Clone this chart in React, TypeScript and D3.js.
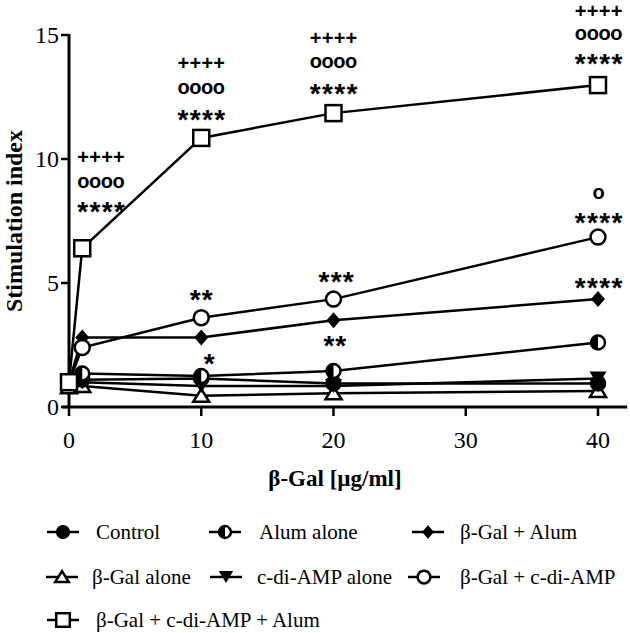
import React from "react";
import * as d3 from "d3";

const doses = [0, 1, 10, 20, 40];
const controlVals = [1.0, 1.1, 1.15, 0.95, 0.95];
const alumAloneVals = [1.0, 1.35, 1.25, 1.45, 2.6];
const galAlumVals = [1.0, 2.8, 2.8, 3.5, 4.35];
const galAloneVals = [0.8, 0.85, 0.45, 0.55, 0.65];
const cdaAloneVals = [1.0, 1.0, 0.85, 0.85, 1.15];
const galCdaVals = [1.0, 2.4, 3.6, 4.35, 6.85];
const galCdaAlumVals = [1.0, 6.4, 10.85, 11.85, 12.98];

const seriesNames = [
  "Control",
  "Alum alone",
  "β-Gal + Alum",
  "β-Gal alone",
  "c-di-AMP alone",
  "β-Gal + c-di-AMP",
  "β-Gal + c-di-AMP + Alum",
];
const seriesValues = [controlVals, alumAloneVals, galAlumVals, galAloneVals, cdaAloneVals, galCdaVals, galCdaAlumVals];
const seriesSymbols = ["circleFilled", "halfCircle", "diamond", "triangleUp", "triangleDown", "circleOpen", "square"];
const drawOrder = [3, 0, 4, 1, 2, 5, 6];

const xTicks = [0, 10, 20, 30, 40];
const yTicks = [0, 5, 10, 15];

// significance annotations: [x, y (centre), text]
const annoX = [2.42, 2.42, 2.42, 10, 10, 10, 20, 20, 20, 40.05, 40.05, 40.05, 40.05, 40.05, 40.05, 10, 10.6, 20.2, 20.1];
const annoY = [10.08, 9.03, 8.15, 13.87, 12.82, 11.85, 14.88, 13.87, 12.9, 15.95, 15.0, 14.11, 8.59, 7.7, 5.08, 4.6, 2.0, 5.32, 2.74];
const annoText = ["++++", "oooo", "****", "++++", "oooo", "****", "++++", "oooo", "****", "++++", "oooo", "****", "o", "****", "****", "**", "*", "***", "**"];

const W = 630;
const H = 633;

function Marker({ type, cx, cy, s = 1 }: { type: string; cx: number; cy: number; s?: number }) {
  const sw = 2.5;
  switch (type) {
    case "circleFilled":
      return <circle cx={cx} cy={cy} r={7.5 * s} fill="#000" stroke="#000" strokeWidth={1.5} />;
    case "halfCircle":
      return (
        <g>
          <circle cx={cx} cy={cy} r={7 * s} fill="#fff" stroke="#000" strokeWidth={sw} />
          <path d={`M${cx},${cy - 7 * s} A${7 * s},${7 * s} 0 0 0 ${cx},${cy + 7 * s} Z`} fill="#000" />
        </g>
      );
    case "diamond":
      return (
        <path
          d={`M${cx},${cy - 8 * s} L${cx + 7 * s},${cy} L${cx},${cy + 8 * s} L${cx - 7 * s},${cy} Z`}
          fill="#000"
        />
      );
    case "triangleUp":
      return (
        <path
          d={`M${cx},${cy - 7 * s} L${cx + 8 * s},${cy + 6 * s} L${cx - 8 * s},${cy + 6 * s} Z`}
          fill="#fff"
          stroke="#000"
          strokeWidth={sw}
          strokeLinejoin="miter"
        />
      );
    case "triangleDown":
      return (
        <path
          d={`M${cx - 8.5 * s},${cy - 7 * s} L${cx + 8.5 * s},${cy - 7 * s} L${cx},${cy + 7 * s} Z`}
          fill="#000"
        />
      );
    case "circleOpen":
      return <circle cx={cx} cy={cy} r={7.5 * s} fill="#fff" stroke="#000" strokeWidth={sw} />;
    case "square":
      return (
        <rect x={cx - 8 * s} y={cy - 8 * s} width={16 * s} height={16 * s} fill="#fff" stroke="#000" strokeWidth={sw} />
      );
    default:
      return null;
  }
}

export default function App() {
  const x = d3.scaleLinear().domain([0, 40]).range([69, 598]);
  const y = d3.scaleLinear().domain([0, 15]).range([407, 35]);
  const line = d3
    .line<number>()
    .x((_, i) => x(doses[i]))
    .y((d) => y(d));

  const serif = "'Liberation Serif', 'Times New Roman', serif";
  const sans = "'Liberation Sans', Arial, sans-serif";

  const isStar = (t: string) => t[0] === "*";
  const fontSizeFor = (t: string) => (isStar(t) ? 28 : 20);
  const baselineShift = (t: string) => (isStar(t) ? 16 : t[0] === "+" ? 7 : 5);

  const legendColSym = [63, 225, 428];
  const legendColText = [96, 259, 460];
  const legendColSym2 = [62, 226, 424];
  const legendColText2 = [92, 257, 460];
  const legendRowY = [532, 577, 620];

  return (
    <svg width={W} height={H} style={{ position: "absolute", left: 0, top: 0, background: "#fff" }}>
      <rect width={W} height={H} fill="#fff" />
      {/* axes */}
      <line x1={x(-0.5)} x2={x(42.2)} y1={y(0)} y2={y(0)} stroke="#000" strokeWidth={3} />
      <line x1={x(0)} x2={x(0)} y1={y(0)} y2={y(15) - 1} stroke="#000" strokeWidth={3} />
      {xTicks.map((t) => (
        <g key={"xt" + t}>
          <line x1={x(t)} x2={x(t)} y1={y(0)} y2={y(0) + 9} stroke="#000" strokeWidth={2.5} />
          <text x={x(t)} y={y(0) + 41} textAnchor="middle" fontFamily={serif} fontSize={24}>
            {t}
          </text>
        </g>
      ))}
      {yTicks.map((t) => (
        <g key={"yt" + t}>
          <line x1={x(0) - 8} x2={x(0)} y1={y(t)} y2={y(t)} stroke="#000" strokeWidth={2.5} />
          <text x={x(0) - 10} y={y(t) + 8} textAnchor="end" fontFamily={serif} fontSize={24}>
            {t}
          </text>
        </g>
      ))}
      <text
        transform={`translate(22,${(y(0) + y(15)) / 2}) rotate(-90)`}
        textAnchor="middle"
        fontFamily={serif}
        fontWeight="bold"
        fontSize={24}
      >
        Stimulation index
      </text>
      <text x={335} y={486} textAnchor="middle" fontFamily={serif} fontWeight="bold" fontSize={23}>
        β-Gal [µg/ml]
      </text>

      {/* lines */}
      {drawOrder.map((si) => (
        <path key={"l" + si} d={line(seriesValues[si]) || ""} fill="none" stroke="#000" strokeWidth={2.5} />
      ))}
      {drawOrder.map((si) => (
        <g key={"m" + si}>
          {seriesValues[si].map((v, i) => (
            <Marker key={i} type={seriesSymbols[si]} cx={x(doses[i])} cy={y(v)} />
          ))}
        </g>
      ))}

      {/* annotations */}
      {annoText.map((t, i) => (
        <text
          key={"a" + i}
          x={x(annoX[i])}
          y={y(annoY[i]) + baselineShift(t)}
          textAnchor="middle"
          fontFamily={sans}
          fontWeight="bold"
          fontSize={fontSizeFor(t)}
          textLength={t.length > 1 ? t.length * 12.4 - 2 : undefined}
          lengthAdjust="spacing"
        >
          {t}
        </text>
      ))}

      {/* legend */}
      {seriesNames.map((name, i) => {
        const row = Math.floor(i / 3);
        const col = i % 3;
        const cx = row === 1 ? legendColSym2[col] : legendColSym[col];
        const tx = row === 1 ? legendColText2[col] : legendColText[col];
        const cy = legendRowY[row];
        return (
          <g key={"lg" + i}>
            <line x1={cx - 16} x2={cx + 16} y1={cy} y2={cy} stroke="#000" strokeWidth={2.5} />
            <Marker type={seriesSymbols[i]} cx={cx} cy={cy} s={0.85} />
            <text x={tx} y={cy + 7} fontFamily={serif} fontSize={21}>
              {name}
            </text>
          </g>
        );
      })}
    </svg>
  );
}
